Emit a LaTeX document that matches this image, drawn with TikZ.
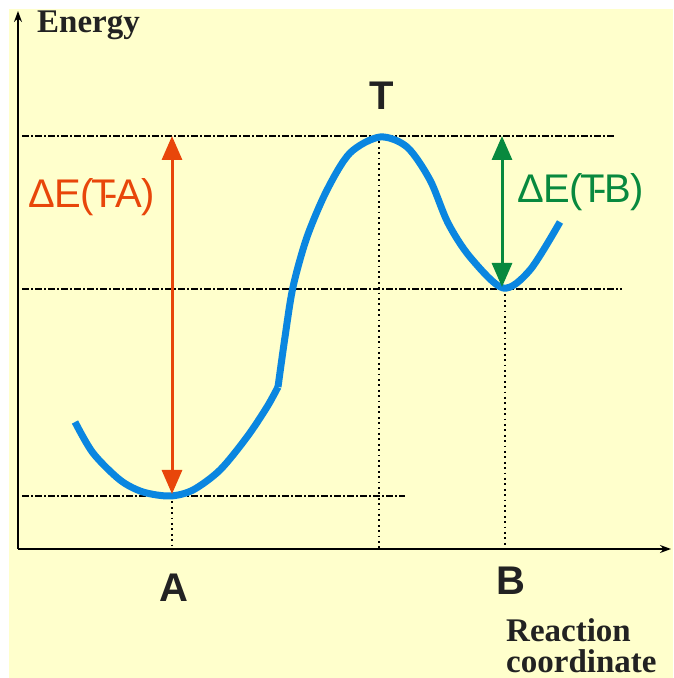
\documentclass[tikz,border=0pt]{standalone}
\usepackage{fontspec}
\usepackage{tikz}
\usetikzlibrary{calc,arrows.meta}
\newfontfamily\axisfont{Liberation Serif}
\newfontfamily\statefont{Liberation Sans}
\definecolor{bgyellow}{HTML}{FFFFCC}
\definecolor{curveblue}{HTML}{0A86E0}
\definecolor{gapred}{HTML}{E8460A}
\definecolor{gapgreen}{HTML}{08893E}
\definecolor{statetext}{HTML}{222222}

\begin{document}
\begin{tikzpicture}[x=1pt,y=1pt,
  level/.style={line width=1.1pt, dash pattern=on 7pt off 2pt on 2pt off 2pt},
  drop/.style={line width=1.8pt, dash pattern=on 1.8pt off 3.6pt},
  gap/.style={line width=3pt, {Triangle[length=24pt,width=20pt]}-{Triangle[length=24pt,width=20pt]}},
  axislabel/.style={font=\axisfont\fontsize{33}{31}\selectfont\bfseries, text=statetext, inner sep=0pt},
  statelabel/.style={font=\statefont\fontsize{40}{40}\selectfont\bfseries, text=statetext, inner sep=0pt},
  gaplabel/.style={font=\statefont\fontsize{40}{40}\selectfont, inner sep=0pt}]
\useasboundingbox (0,0) rectangle (673,678);
\fill[bgyellow] (9,0) rectangle (673,669);
% axes
\coordinate (O) at (18,129);
\draw[line width=1.4pt, -{Stealth[length=11pt,width=8pt]}] (O) -- (18,667);
\draw[line width=1.4pt, -{Stealth[length=11pt,width=8pt]}] (O) -- (671,129);
\node[axislabel, anchor=base west] (energy) at (37,645) {Energy};
\node[axislabel, anchor=north west, align=left] (rc) at (506,60) {Reaction\\coordinate};
% energy levels
\coordinate (Amin) at (172,182);
\coordinate (Tmax) at (379,542);
\coordinate (Bmin) at (505,389);
\draw[level] (22,542) -- (615,542);
\draw[level] (22,389) -- (622,389);
\draw[level] (22,182) -- (405,182);
\draw[drop] (Amin) -- (Amin |- O);
\draw[drop] (Tmax) -- (Tmax |- O);
\draw[drop] (Bmin) -- (Bmin |- O);
\node[statelabel, anchor=base] (A) at (174,76) {A};
\node[statelabel, anchor=base] (T) at (382,568) {T};
\node[statelabel, anchor=base] (B) at (511,83) {B};
% reaction path
\draw[curveblue, line width=7pt, line join=round] plot[smooth] coordinates
  {(75,256) (93,225) (120,198) (143,186) (170,182) (193,188) (220,208) (247,241) (267,271) (278,291)};
\draw[curveblue, line width=7pt, line join=round] plot[smooth] coordinates
  {(278,291) (285,341) (293,391) (307,441) (327,488) (350,525) (380,541) (407,531)
   (430,498) (448,455) (470,421) (503,390) (530,408) (560,456)};
% barriers
\draw[gap, gapred] ($(Amin)+(0,2)$) -- (Amin |- Tmax);
\draw[gap, gapgreen] ($(Bmin)+(-3,2)$) -- ($(Bmin |- Tmax)+(-3,0)$);
\node[gaplabel, text=gapred, anchor=base] (dEA) at (92,470)
  {Δ\kern-1pt E\kern-1pt(\kern-2pt T\kern-11pt-\kern-3pt A)};
\node[gaplabel, text=gapgreen, anchor=base] (dEB) at (581,475)
  {Δ\kern-1pt E\kern-1pt(\kern-2pt T\kern-11pt-\kern-3pt B)};
\end{tikzpicture}
\end{document}
